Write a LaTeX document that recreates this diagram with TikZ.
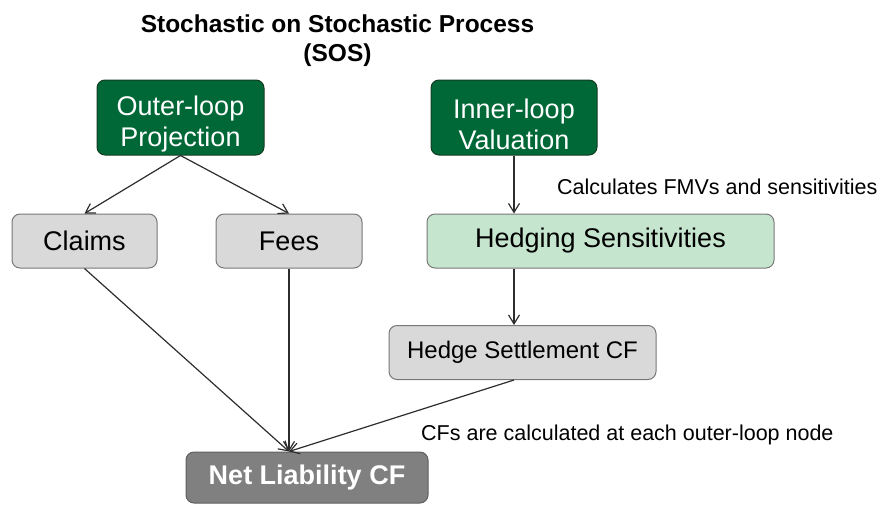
\documentclass[tikz,border=0pt]{standalone}
\usepackage{fontspec}
\setmainfont{Liberation Sans}
\usetikzlibrary{arrows.meta,calc}

\definecolor{darkgreen}{RGB}{0,104,55}
\definecolor{darkgreenline}{RGB}{20,60,35}
\definecolor{boxgray}{RGB}{217,217,217}
\definecolor{boxgrayline}{RGB}{120,120,120}
\definecolor{palegreen}{RGB}{198,229,206}
\definecolor{netgray}{RGB}{128,128,128}
\definecolor{netgrayline}{RGB}{95,95,95}
\definecolor{linkgray}{RGB}{45,45,45}

% taller first line, which sets the two-line labels a little lower in their boxes
\newcommand{\toppad}{\rule{0pt}{33pt}}

\tikzset{
  basebox/.style={rounded corners=8pt, line width=1pt, align=center, inner sep=0pt},
  loopbox/.style={basebox, fill=darkgreen, draw=darkgreenline, text=white,
    font=\fontsize{27}{31}\selectfont},
  graybox/.style={basebox, fill=boxgray, draw=boxgrayline, text=black,
    font=\fontsize{27}{31}\selectfont},
  greenbox/.style={basebox, fill=palegreen, draw=boxgrayline, text=black,
    font=\fontsize{27}{31}\selectfont},
  netbox/.style={basebox, fill=netgray, draw=netgrayline, text=white,
    font=\bfseries\fontsize{27}{31}\selectfont},
  note/.style={font=\fontsize{21.5}{25}\selectfont, text=black, inner sep=0pt},
  heading/.style={font=\bfseries\fontsize{24.5}{29}\selectfont, align=center, inner sep=0pt},
  link/.style={draw=linkgray, line width=1.2pt,
    -{Straight Barb[length=9pt,width=11pt,line width=1.2pt]}},
}

\begin{document}
\begin{tikzpicture}[x=1pt,y=-1pt]
  \useasboundingbox (0,0) rectangle (890,504);

  % title
  \node[heading] (title) at (337.5,40.5) {Stochastic on Stochastic Process\\(SOS)};

  % loop drivers
  \node[loopbox, minimum width=167pt, minimum height=75pt] (outer) at (180.5,117.5)
    {\toppad Outer-loop\\Projection};
  \node[loopbox, minimum width=166pt, minimum height=75pt] (inner) at (514,117.5)
    {\toppad Inner-loop\\Valuation};

  % cash-flow components
  \node[graybox, minimum width=145pt, minimum height=54pt] (claims) at (84.5,241) {Claims};
  \node[graybox, minimum width=146pt, minimum height=54pt] (fees) at (289,241) {Fees};
  \node[greenbox, minimum width=347pt, minimum height=54pt] (sens) at (600.5,241)
    {Hedging Sensitivities};
  \node[graybox, minimum width=267pt, minimum height=54pt,
    font=\fontsize{24}{28}\selectfont] (settle) at (522.5,352.5) {Hedge Settlement CF};
  \node[netbox, minimum width=242pt, minimum height=51pt] (net) at (307,477.5)
    {Net Liability CF};

  % annotations
  \node[note, anchor=west] (fmv) at (557,187) {Calculates FMVs and sensitivities};
  \node[note, anchor=west] (cfnote) at (421,435) {CFs are calculated at each outer-loop node};

  % connectors
  \coordinate (netin) at (net.north -| fees.south);
  \draw[link] (outer.south) -- (claims.north);
  \draw[link] (outer.south) -- (fees.north);
  \draw[link] (inner.south) -- (sens.north -| inner.south);
  \draw[link] (sens.south -| inner.south) -- (settle.north -| inner.south);
  \draw[link] (claims.south) -- (netin);
  \draw[link] (fees.south) -- (netin);
  \draw[link] (settle.south -| inner.south) -- (netin);
\end{tikzpicture}
\end{document}
